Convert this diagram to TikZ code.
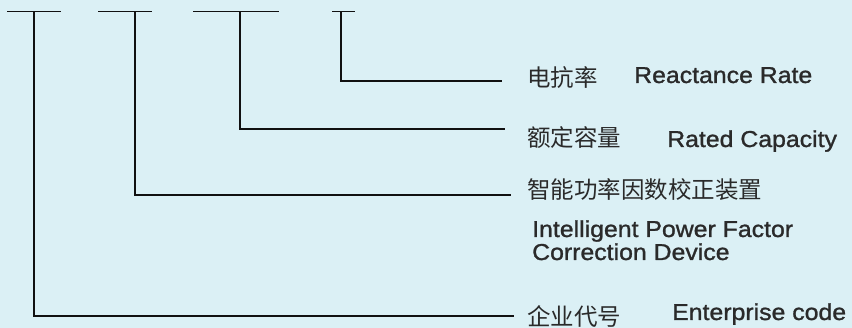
\documentclass[tikz,border=0pt]{standalone}
\usepackage{fontspec}
\setmainfont{Liberation Sans}
\newfontfamily\cjk{Noto Sans CJK SC}
\newfontfamily\en[FakeStretch=1.08,FakeBold=1.2]{Liberation Sans}
\definecolor{bg}{HTML}{DBF0F5}
\definecolor{txt}{HTML}{2A2A2A}
\definecolor{ink}{HTML}{111111}
\begin{document}
\begin{tikzpicture}[x=1pt,y=-1pt,
  wire/.style={draw=ink,line width=1.7pt,line join=miter,line cap=butt},
  cnlabel/.style={anchor=base west,inner sep=0pt,text=txt,font={\cjk\fontsize{23.5}{26}\selectfont}},
  enlabel/.style={anchor=base west,inner sep=0pt,text=txt,font={\en\fontsize{23}{26}\selectfont}}]
\fill[bg] (0,0) rectangle (852,328);
\useasboundingbox (0,0) rectangle (852,328);
% top bars
\coordinate (a1) at (7,11.5);   \coordinate (b1) at (61,11.5);  \coordinate (m1) at (34,11.5);
\coordinate (a2) at (98,11.5);  \coordinate (b2) at (152,11.5); \coordinate (m2) at (135,11.5);
\coordinate (a3) at (193,11.5); \coordinate (b3) at (279,11.5); \coordinate (m3) at (240,11.5);
\coordinate (a4) at (332,11.5); \coordinate (b4) at (355,11.5); \coordinate (m4) at (341,11.5);
% line ends
\coordinate (e4) at (502,81);
\coordinate (e3) at (505,129);
\coordinate (e2) at (511,195);
\coordinate (e1) at (514,316);
% labels
\node[cnlabel] (c4) at (527,87) {电抗率};
\node[enlabel] (n4) at (634,83) {Reactance Rate};
\node[cnlabel] (c3) at (527,147) {额定容量};
\node[enlabel] (n3) at (667,147) {Rated Capacity};
\node[cnlabel] (c2) at (527,199) {智能功率因数校正装置};
\node[enlabel] (n2a) at (532,237) {Intelligent Power Factor};
\node[enlabel] (n2b) at (532,260) {Correction Device};
\node[cnlabel] (c1) at (527,326) {企业代号};
\node[enlabel] (n1) at (672,320) {Enterprise code};
% connectors
\draw[wire] (a1) -- (b1);
\draw[wire] (a2) -- (b2);
\draw[wire] (a3) -- (b3);
\draw[wire] (a4) -- (b4);
\draw[wire] (m1) |- (e1);
\draw[wire] (m2) |- (e2);
\draw[wire] (m3) |- (e3);
\draw[wire] (m4) |- (e4);
\end{tikzpicture}
\end{document}
